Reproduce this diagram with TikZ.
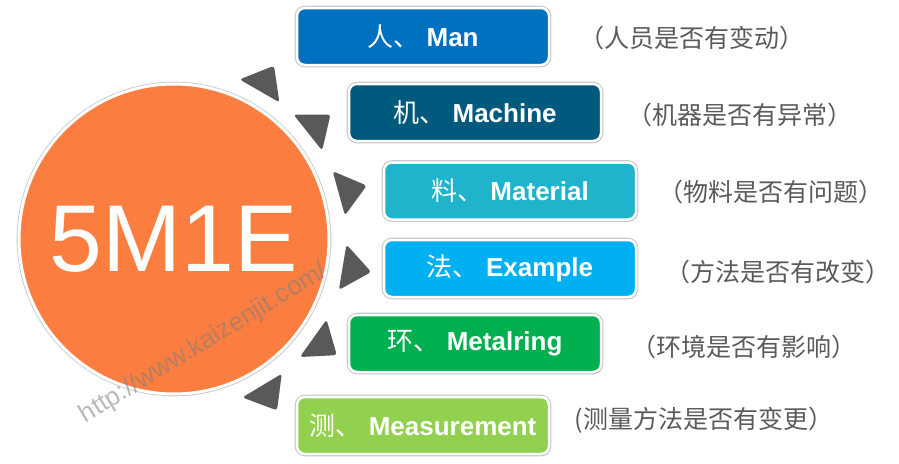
\documentclass[tikz,border=0pt]{standalone}
\usepackage{xcolor}
\usepackage{fontspec}
\setmainfont{Liberation Sans}
\newfontfamily\cjk{Noto Sans CJK SC}
\usepackage{tikz}
\usetikzlibrary{positioning, shadows}
\definecolor{core}{RGB}{251, 125, 64}
\definecolor{man}{RGB}{0, 112, 192}
\definecolor{machine}{RGB}{0, 90, 125}
\definecolor{material}{RGB}{31, 180, 204}
\definecolor{method}{RGB}{0, 176, 240}
\definecolor{envir}{RGB}{0, 176, 80}
\definecolor{measure}{RGB}{146, 208, 80}
\definecolor{trigray}{RGB}{89, 89, 89}
\definecolor{notegray}{RGB}{90, 90, 90}

\begin{document}
\begin{tikzpicture}[
    x=1pt, y=1pt,
    halo/.style={preaction={draw=black!22, line width=4.6pt}},
    item/.style={rectangle, draw=white, line width=2.5pt, rounded corners=8pt, minimum width=252pt, minimum height=57pt, inner sep=1pt, fill=#1, text=white, font=\fontsize{26}{30}\selectfont\bfseries, halo, drop shadow={shadow xshift=1.2pt, shadow yshift=-1.5pt, opacity=0.25}},
    note/.style={font=\cjk\fontsize{25}{30}\selectfont, text=notegray},
    tri/.style={fill=trigray, rounded corners=3pt},
    wmark/.style={font=\fontsize{26}{30}\selectfont, text=gray, opacity=0.55}
]
    \useasboundingbox (0,0) rectangle (899,-463);

    \node[circle, fill=core, draw=white, line width=3pt, minimum size=310pt, text=white, font=\fontsize{95}{95}\selectfont, halo, drop shadow={shadow xshift=1.2pt, shadow yshift=-1.5pt, opacity=0.25}] (hub) at (174,-239) {5M1E};

    \foreach \a in {60, 38.5, 15.5, -9.5, -35.5, -59}
        \fill[tri, shift={(hub.center)}, rotate=\a] (171,23) -- (200,0) -- (171,-23) -- cycle;

    \node[item=man] (man) at (423,-36.5) {{\cjk\mdseries 人、} Man};
    \node[item=machine] (machine) at (475,-112.5) {{\cjk\mdseries 机、} Machine};
    \node[item=material] (material) at (510,-191) {{\cjk\mdseries 料、} Material};
    \node[item=method] (method) at (510,-268.5) {{\cjk\mdseries 法、} Example};
    \node[item=envir] (envir) at (475,-343.5) {{\cjk\mdseries 环、} Metalring};
    \node[item=measure] (measure) at (423,-425.5) {{\cjk\mdseries 测、} Measurement};

    \node[note] (manN) at (692,-38) {（人员是否有变动）};
    \node[note] (machineN) at (740,-115) {（机器是否有异常）};
    \node[note] (materialN) at (771,-192) {（物料是否有问题）};
    \node[note] (methodN) at (778,-272) {（方法是否有改变）};
    \node[note] (envirN) at (744,-347) {（环境是否有影响）};
    \node[note] (measureN) at (704,-420) {(测量方法是否有变更）};

    \node[wmark, rotate=31.3] (url) at (204,-343.5) {http://www.kaizenjit.com/};
\end{tikzpicture}
\end{document}
